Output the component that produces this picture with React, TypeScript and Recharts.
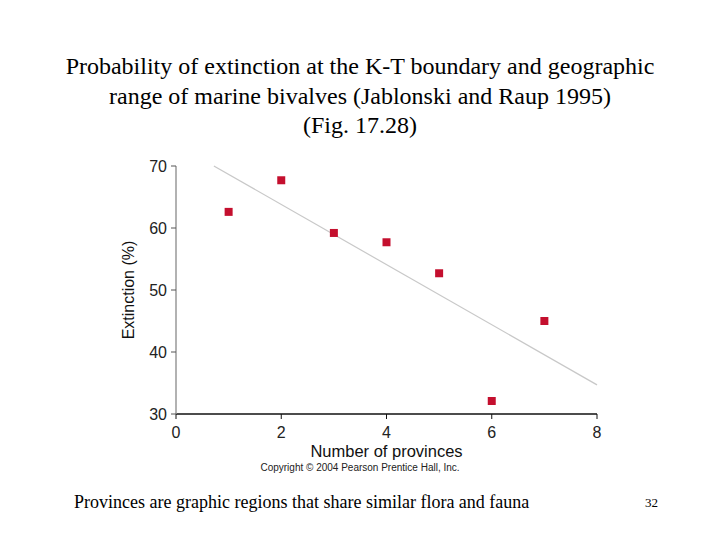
import React from "react";
import {
  ScatterChart,
  Scatter,
  XAxis,
  YAxis,
  ReferenceLine,
  Label,
} from "recharts";

// Number of biogeographic provinces occupied by each group
const provinces = [1, 2, 3, 4, 5, 6, 7];
// Extinction at the K-T boundary (%)
const extinction = [62.6, 67.7, 59.2, 57.7, 52.7, 32.1, 45.0];
// Fitted trend line end points
const trendX = [0.72, 8];
const trendY = [70, 34.7];

const xTicks = [0, 2, 4, 6, 8];
const yTicks = [30, 40, 50, 60, 70];

const titleLines = [
  "Probability of extinction at the K-T boundary and geographic",
  "range of marine bivalves (Jablonski and Raup 1995)",
  "(Fig. 17.28)",
];

const points = provinces.map((p, i) => ({ x: p, y: extinction[i] }));
const trend = [
  { x: trendX[0], y: trendY[0] },
  { x: trendX[1], y: trendY[1] },
];

const sans = "'Liberation Sans', Arial, sans-serif";
const serif = "'Liberation Serif', 'Times New Roman', serif";

export default function App() {
  return (
    <div
      style={{
        position: "absolute",
        left: 0,
        top: 0,
        width: 720,
        height: 540,
        background: "#fff",
      }}
    >
      <div
        style={{
          position: "absolute",
          left: 0,
          top: 52,
          width: 720,
          textAlign: "center",
          fontFamily: serif,
          fontSize: 24,
          lineHeight: "29.5px",
          color: "#000",
        }}
      >
        {titleLines.map((t) => (
          <div key={t}>{t}</div>
        ))}
      </div>
      <div style={{ position: "absolute", left: 0, top: 0 }}>
        <ScatterChart
          width={720}
          height={540}
          margin={{ top: 166, right: 123, left: 0, bottom: 0 }}
        >
          <XAxis
            type="number"
            dataKey="x"
            domain={[0, 8]}
            ticks={xTicks}
            height={126}
            axisLine={{ stroke: "#111", strokeWidth: 1.5 }}
            tickLine={{ stroke: "#111" }}
            tickSize={5}
            tickMargin={8}
            tick={{ fill: "#222", fontSize: 16, fontFamily: sans }}
            allowDataOverflow
          >
            <Label
              value="Number of provinces"
              position="insideTop"
              offset={31}
              style={{ fill: "#111", fontSize: 16.5, fontFamily: sans }}
            />
          </XAxis>
          <YAxis
            type="number"
            dataKey="y"
            domain={[30, 70]}
            ticks={yTicks}
            width={176}
            axisLine={{ stroke: "#999", strokeWidth: 1.5 }}
            tickLine={{ stroke: "#555" }}
            tickSize={5}
            tickMargin={4}
            tick={{ fill: "#222", fontSize: 16, fontFamily: sans }}
            allowDataOverflow
          >
            <Label
              value="Extinction (%)"
              angle={-90}
              position="insideRight"
              offset={48}
              style={{
                fill: "#111",
                fontSize: 16,
                fontFamily: sans,
                textAnchor: "middle",
              }}
            />
          </YAxis>
          <ReferenceLine
            segment={trend}
            stroke="#c8c8c8"
            strokeWidth={1.2}
            ifOverflow="visible"
          />
          <Scatter
            data={points}
            shape="square"
            fill="#c40f2e"
            isAnimationActive={false}
            legendType="none"
          />
          <text
            x={360}
            y={471}
            textAnchor="middle"
            fontFamily={sans}
            fontSize={10}
            fill="#222"
          >
            Copyright © 2004 Pearson Prentice Hall, Inc.
          </text>
        </ScatterChart>
      </div>
      <div
        style={{
          position: "absolute",
          left: 74,
          top: 492,
          fontFamily: serif,
          fontSize: 18,
          color: "#000",
          whiteSpace: "nowrap",
        }}
      >
        Provinces are graphic regions that share similar flora and fauna
      </div>
      <div
        style={{
          position: "absolute",
          left: 645,
          top: 495,
          fontFamily: serif,
          fontSize: 13,
          color: "#000",
        }}
      >
        32
      </div>
    </div>
  );
}
